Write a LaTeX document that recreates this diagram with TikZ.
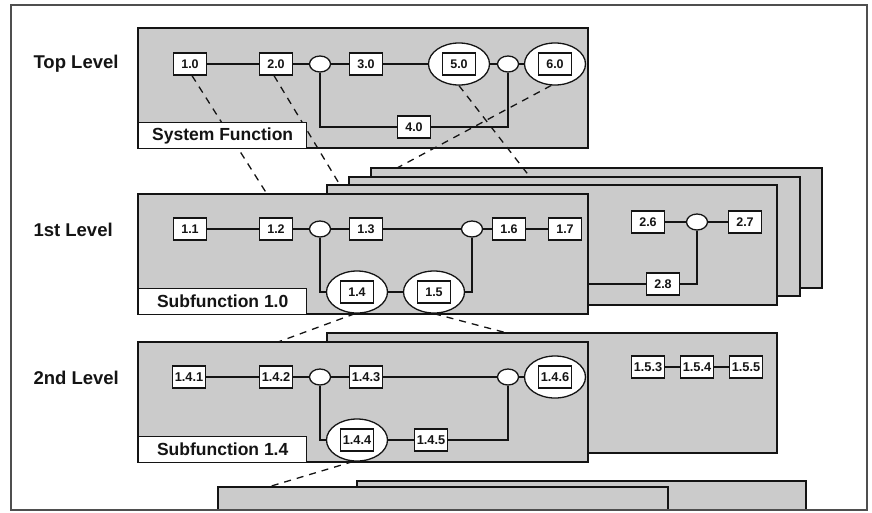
\documentclass[tikz,border=0pt]{standalone}
\usepackage{fontspec}
\setmainfont{Liberation Sans}
\usetikzlibrary{shapes.geometric}
\definecolor{panelgray}{HTML}{CBCBCB}
\definecolor{ink}{HTML}{141414}
\begin{document}
\begin{tikzpicture}[x=1pt,y=-1pt,
  frame/.style={draw=ink!75, line width=1.3pt},
  panel/.style={draw=ink, line width=1.4pt, fill=panelgray},
  labbox/.style={draw=ink, line width=1.4pt, fill=white},
  labtext/.style={font=\bfseries\fontsize{17.5}{17.5}\selectfont, text=ink},
  lvl/.style={font=\bfseries\fontsize{18.5}{18.5}\selectfont, text=ink, anchor=west},
  fbox/.style={draw=ink, line width=1.3pt, fill=white, minimum width=33pt, minimum height=22pt, inner sep=0pt, font=\bfseries\fontsize{12.5}{12.5}\selectfont, text=ink},
  sbox/.style={fbox, font=\bfseries\fontsize{12.8}{12.8}\selectfont},
  jn/.style={ellipse, draw=ink, line width=1.3pt, fill=white, minimum width=21pt, minimum height=16pt, inner sep=0pt},
  oval/.style={ellipse, draw=ink, line width=1.3pt, fill=white, minimum width=61pt, minimum height=42pt, inner sep=0pt},
  wire/.style={draw=ink, line width=1.3pt},
  link/.style={draw=ink, line width=1.3pt, dash pattern=on 7pt off 6pt}
]
\useasboundingbox (0,0) rectangle (872,512);

% ---------- bottom (3rd level) panels ----------
\path[panel] (357,481) rectangle (806,510);
\path[panel] (218,487) rectangle (668,510);

% ---------- 2nd level ----------
\path[panel] (327,333) rectangle (777,453);
\node[sbox] (n153) at (648,367) {1.5.3};
\node[sbox] (n154) at (697,367) {1.5.4};
\node[sbox] (n155) at (746,367) {1.5.5};
\draw[wire] (n153) -- (n154) (n154) -- (n155);
\path[panel] (138,342) rectangle (588,462);

% ---------- 1st level ----------
\path[panel] (371,168) rectangle (822,288);
\path[panel] (349,177) rectangle (800,296);
\path[panel] (327,185) rectangle (777,305);
\node[fbox] (n26) at (648,222) {2.6};
\node[jn]   (j7)  at (697,222) {};
\node[fbox] (n27) at (745,222) {2.7};
\node[fbox] (n28) at (663,284) {2.8};
\path[panel] (138,194) rectangle (588,314);
\coordinate (f1e) at (588,284);
\draw[wire] (n26) -- (j7) (j7) -- (n27);
\draw[wire] (f1e) -- (n28) (n28.east) -| (j7.south);

% ---------- top level ----------
\path[panel] (138,28) rectangle (588,148);

% ---------- level labels ----------
\node[lvl] (tl) at (30,64) {Top Level};
\node[lvl] (l1) at (30,230) {1st Level};
\node[lvl] (l2) at (30,378) {2nd Level};

% ---------- top level nodes ----------
\node[fbox] (n10) at (190,64) {1.0};
\node[fbox] (n20) at (276,64) {2.0};
\node[jn]   (j1)  at (320,64) {};
\node[fbox] (n30) at (366,64) {3.0};
\node[oval] (e50) at (459,64) {};
\node[fbox, line width=1.6pt] (n50) at (459,64) {5.0};
\node[jn]   (j2)  at (508,64) {};
\node[oval] (e60) at (555,64) {};
\node[fbox, line width=1.6pt] (n60) at (555,64) {6.0};
\node[fbox] (n40) at (414,127) {4.0};

% ---------- 1st level nodes ----------
\node[fbox] (n11) at (190,229) {1.1};
\node[fbox] (n12) at (276,229) {1.2};
\node[jn]   (j3)  at (320,229) {};
\node[fbox] (n13) at (366,229) {1.3};
\node[jn]   (j4)  at (472,229) {};
\node[fbox] (n16) at (509,229) {1.6};
\node[fbox] (n17) at (565,229) {1.7};
\node[oval] (e14) at (357,292) {};
\node[fbox, line width=1.6pt] (n14) at (357,292) {1.4};
\node[oval] (e15) at (434,292) {};
\node[fbox, line width=1.6pt] (n15) at (434,292) {1.5};

% ---------- 2nd level nodes ----------
\node[sbox] (n141) at (189,377) {1.4.1};
\node[sbox] (n142) at (276,377) {1.4.2};
\node[jn]   (j5)   at (320,377) {};
\node[sbox] (n143) at (366,377) {1.4.3};
\node[jn]   (j6)   at (508,377) {};
\node[oval] (e146) at (555,377) {};
\node[sbox, line width=1.6pt] (n146) at (555,377) {1.4.6};
\node[oval] (e144) at (357,440) {};
\node[sbox, line width=1.6pt] (n144) at (357,440) {1.4.4};
\node[sbox] (n145) at (431,440) {1.4.5};

% ---------- dashed links between levels ----------
\coordinate (t1) at (267,194);
\coordinate (t2) at (340,185);
\coordinate (t3) at (530,177);
\coordinate (t4) at (397,168);
\coordinate (t5) at (278,342);
\coordinate (t6) at (507,333);
\coordinate (t7) at (268,487);
\draw[link] (n10.south) ++(2,0) -- (t1);
\draw[link] (n20.south) ++(-2,0) -- (t2);
\draw[link] (e50.south) -- (t3);
\draw[link] (e60.-100) -- (t4);
\draw[link] (e14.-95) -- (t5);
\draw[link] (e15.south) -- (t6);
\draw[link] (e144.-100) -- (t7);

% ---------- label boxes ----------
\node[labbox, minimum width=168pt, minimum height=26pt, inner sep=0pt, anchor=north west] (lb0) at (138,122) {};
\node[labtext] (lt0) at (lb0.center) {System Function};
\node[labbox, minimum width=168pt, minimum height=26pt, inner sep=0pt, anchor=north west] (lb1) at (138,288) {};
\node[labtext] (lt1) at (lb1.center) {Subfunction 1.0};
\node[labbox, minimum width=168pt, minimum height=26pt, inner sep=0pt, anchor=north west] (lb2) at (138,436) {};
\node[labtext] (lt2) at (lb2.center) {Subfunction 1.4};

% ---------- wires (top level) ----------
\draw[wire] (n10) -- (n20) (n20) -- (j1) (j1) -- (n30) (n30) -- (e50) (e50) -- (j2) (j2) -- (e60);
\draw[wire] (j1.south) |- (n40.west) (n40.east) -| (j2.south);
% ---------- wires (1st level) ----------
\draw[wire] (n11) -- (n12) (n12) -- (j3) (j3) -- (n13) (n13) -- (j4) (j4) -- (n16) (n16) -- (n17);
\draw[wire] (j3.south) |- (e14.west) (e14) -- (e15) (e15.east) -| (j4.south);
% ---------- wires (2nd level) ----------
\draw[wire] (n141) -- (n142) (n142) -- (j5) (j5) -- (n143) (n143) -- (j6) (j6) -- (e146);
\draw[wire] (j5.south) |- (e144.west) (e144) -- (n145) (n145.east) -| (j6.south);

% ---------- outer frame ----------
\draw[frame] (11,5) rectangle (867,510);
\end{tikzpicture}
\end{document}
